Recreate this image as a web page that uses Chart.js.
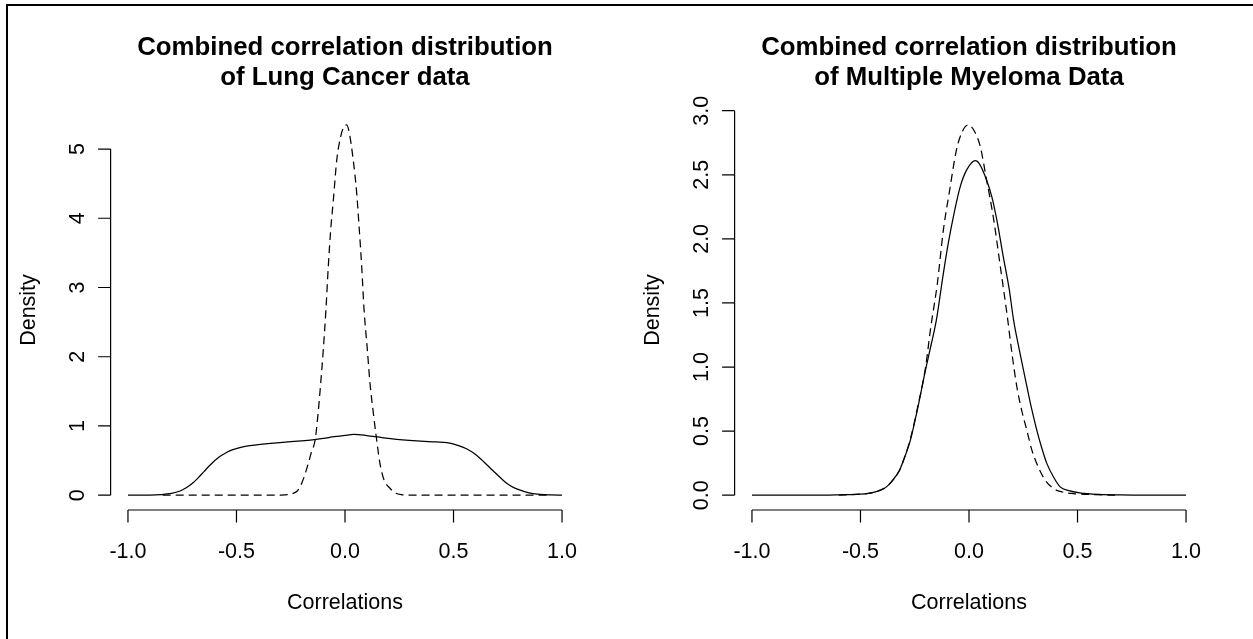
<!DOCTYPE html>
<html>
<head>
<meta charset="utf-8">
<script src="https://cdn.jsdelivr.net/npm/chart.js@4.4.1/dist/chart.umd.min.js"></script>
<style>
  html, body { margin: 0; padding: 0; background: #fff; }
  #page { position: relative; width: 1253px; height: 639px; overflow: hidden; background: #fff; }
  #frame { position: absolute; left: 6px; top: 4px; width: 1300px; height: 700px;
           border-top: 2px solid #000; border-left: 2px solid #000; }
  canvas { position: absolute; top: 0; }
  #c1 { left: 0; }
  #c2 { left: 626px; }
</style>
</head>
<body>
<div id="page">
  <div id="frame"></div>
  <canvas id="c1" width="626" height="639"></canvas>
  <canvas id="c2" width="627" height="639"></canvas>
</div>
<script>
// ---------- tick labels ----------
const xTickValues = [-1, -0.5, 0, 0.5, 1];
const xTickLabels = ['-1.0', '-0.5', '0.0', '0.5', '1.0'];
const lungYTickValues = [0, 1, 2, 3, 4, 5];
const lungYTickLabels = ['0', '1', '2', '3', '4', '5'];
const myelomaYTickValues = [0, 0.5, 1, 1.5, 2, 2.5, 3];
const myelomaYTickLabels = ['0.0', '0.5', '1.0', '1.5', '2.0', '2.5', '3.0'];

// ---------- Lung Cancer: solid curve ----------
const lungSolidX = [-1.0,-0.9,-0.85,-0.8,-0.76,-0.73,-0.7,-0.68,-0.65,-0.62,-0.58,-0.55,-0.52,-0.48,-0.44,-0.4,-0.3,-0.2,-0.15,-0.1,-0.05,0.0,0.04,0.1,0.15,0.2,0.28,0.35,0.42,0.47,0.52,0.56,0.6,0.64,0.68,0.72,0.75,0.78,0.82,0.86,0.9,0.95,1.0];
const lungSolidY = [0,0.002,0.008,0.025,0.06,0.11,0.18,0.24,0.34,0.44,0.55,0.61,0.655,0.69,0.715,0.73,0.76,0.785,0.80,0.82,0.845,0.865,0.877,0.862,0.842,0.82,0.795,0.78,0.77,0.76,0.72,0.67,0.59,0.48,0.36,0.24,0.16,0.105,0.06,0.025,0.01,0.003,0];
// ---------- Lung Cancer: dashed curve ----------
const lungDashedX = [-0.84,-0.5,-0.3,-0.26,-0.24,-0.22,-0.207,-0.19,-0.169,-0.155,-0.138,-0.125,-0.115,-0.1,-0.088,-0.077,-0.066,-0.054,-0.038,-0.02,-0.005,0.008,0.02,0.038,0.054,0.066,0.077,0.088,0.103,0.115,0.13,0.143,0.161,0.18,0.207,0.23,0.26,0.3,0.5,0.93];
const lungDashedY = [0,0,0.002,0.008,0.025,0.06,0.12,0.25,0.46,0.62,0.79,1.15,1.5,2.1,2.67,3.3,3.83,4.25,4.84,5.18,5.32,5.35,5.23,4.84,4.36,3.83,3.3,2.67,2.1,1.62,1.2,0.87,0.46,0.22,0.1,0.035,0.008,0.002,0,0];

// ---------- Multiple Myeloma: solid curve ----------
const myelomaSolidX = [-1,-0.7,-0.6,-0.5,-0.45,-0.4,-0.38,-0.35,-0.32,-0.3,-0.27,-0.24,-0.2,-0.175,-0.15,-0.12,-0.095,-0.065,-0.04,-0.01,0.03,0.05,0.074,0.105,0.128,0.158,0.186,0.205,0.23,0.258,0.285,0.312,0.335,0.358,0.39,0.42,0.46,0.51,0.6,0.7,0.8,1.0];
const myelomaSolidY = [0,0,0.003,0.008,0.018,0.045,0.065,0.12,0.195,0.28,0.43,0.65,0.98,1.17,1.37,1.71,1.97,2.23,2.41,2.54,2.61,2.58,2.49,2.33,2.15,1.86,1.6,1.37,1.15,0.92,0.7,0.51,0.37,0.25,0.14,0.065,0.035,0.018,0.006,0.002,0,0];
// ---------- Multiple Myeloma: dashed curve ----------
const myelomaDashedX = [-0.6,-0.5,-0.45,-0.4,-0.38,-0.35,-0.32,-0.3,-0.27,-0.24,-0.2,-0.177,-0.146,-0.118,-0.091,-0.057,-0.03,-0.003,0.025,0.052,0.08,0.112,0.143,0.176,0.2,0.22,0.243,0.266,0.29,0.319,0.35,0.389,0.43,0.48,0.58,0.68];
const myelomaDashedY = [0,0.008,0.018,0.045,0.065,0.12,0.195,0.28,0.44,0.66,1.0,1.3,1.65,2.07,2.36,2.7,2.84,2.89,2.84,2.72,2.47,2.17,1.80,1.40,1.08,0.85,0.66,0.51,0.35,0.22,0.12,0.052,0.025,0.013,0.004,0];

const zip = (xs, ys) => xs.map((x, i) => ({ x: x, y: ys[i] }));

const FONT = '"Liberation Sans", Arial, Helvetica, sans-serif';

// R base-graphics style axes, labels and title, placed through the chart's scales
const rStyle = {
  id: 'rStyle',
  afterDraw(chart, args, o) {
    const { ctx, chartArea: ca, scales: { x, y } } = chart;
    ctx.save();
    ctx.strokeStyle = '#000';
    ctx.fillStyle = '#000';
    ctx.lineWidth = 1.2;
    // x axis
    const xb = ca.bottom;
    ctx.beginPath();
    ctx.moveTo(x.getPixelForValue(o.xTicks[0]), xb);
    ctx.lineTo(x.getPixelForValue(o.xTicks[o.xTicks.length - 1]), xb);
    o.xTicks.forEach(v => {
      const px = x.getPixelForValue(v);
      ctx.moveTo(px, xb); ctx.lineTo(px, xb + 12.5);
    });
    // y axis
    const yl = ca.left;
    ctx.moveTo(yl, y.getPixelForValue(o.yTicks[0]));
    ctx.lineTo(yl, y.getPixelForValue(o.yTicks[o.yTicks.length - 1]));
    o.yTicks.forEach(v => {
      const py = y.getPixelForValue(v);
      ctx.moveTo(yl, py); ctx.lineTo(yl - 12.5, py);
    });
    ctx.stroke();

    ctx.font = '21.5px ' + FONT;
    ctx.textAlign = 'center';
    ctx.textBaseline = 'alphabetic';
    o.xTicks.forEach((v, i) => ctx.fillText(o.xLabels[i], x.getPixelForValue(v), xb + 48));
    o.yTicks.forEach((v, i) => {
      ctx.save();
      ctx.translate(yl - 27, y.getPixelForValue(v));
      ctx.rotate(-Math.PI / 2);
      ctx.fillText(o.yLabels[i], 0, 0);
      ctx.restore();
    });
    const cx = (ca.left + ca.right) / 2;
    const cy = (ca.top + ca.bottom) / 2;
    ctx.fillText(o.xTitle, cx, xb + 99);
    ctx.save();
    ctx.translate(yl - 76, cy);
    ctx.rotate(-Math.PI / 2);
    ctx.fillText(o.yTitle, 0, 0);
    ctx.restore();

    ctx.font = 'bold 25.8px ' + FONT;
    ctx.fillText(o.title[0], cx, 55);
    ctx.fillText(o.title[1], cx, 85);
    ctx.restore();
  }
};

function makeChart(id, solid, dashed, yMin, yMax, padLeft, padRight, yTicks, yLabels, title) {
  return new Chart(document.getElementById(id), {
    type: 'line',
    data: {
      datasets: [
        { label: 'solid', data: solid, borderColor: '#000', borderWidth: 1.25,
          pointRadius: 0, cubicInterpolationMode: 'monotone', fill: false },
        { label: 'dashed', data: dashed, borderColor: '#000', borderWidth: 1.25,
          borderDash: [8, 5], pointRadius: 0, cubicInterpolationMode: 'monotone', fill: false }
      ]
    },
    options: {
      responsive: false,
      animation: false,
      parsing: true,
      layout: { padding: { left: padLeft, right: padRight, top: 110, bottom: 129 } },
      plugins: {
        legend: { display: false },
        title: { display: false },
        tooltip: { enabled: false },
        rStyle: {
          xTicks: xTickValues, xLabels: xTickLabels,
          yTicks: yTicks, yLabels: yLabels,
          xTitle: 'Correlations', yTitle: 'Density', title: title
        }
      },
      scales: {
        x: { type: 'linear', min: -1.08, max: 1.08, display: false },
        y: { type: 'linear', min: yMin, max: yMax, display: false }
      }
    },
    plugins: [rStyle]
  });
}

makeChart('c1', zip(lungSolidX, lungSolidY), zip(lungDashedX, lungDashedY),
  -0.214, 5.564, 110.6, 626 - 579.4, lungYTickValues, lungYTickLabels,
  ['Combined correlation distribution', 'of Lung Cancer data']);
makeChart('c2', zip(myelomaSolidX, myelomaSolidY), zip(myelomaDashedX, myelomaDashedY),
  -0.1156, 3.0056, 734.6 - 626, 1253 - 1203.4, myelomaYTickValues, myelomaYTickLabels,
  ['Combined correlation distribution', 'of Multiple Myeloma Data']);
</script>
</body>
</html>
